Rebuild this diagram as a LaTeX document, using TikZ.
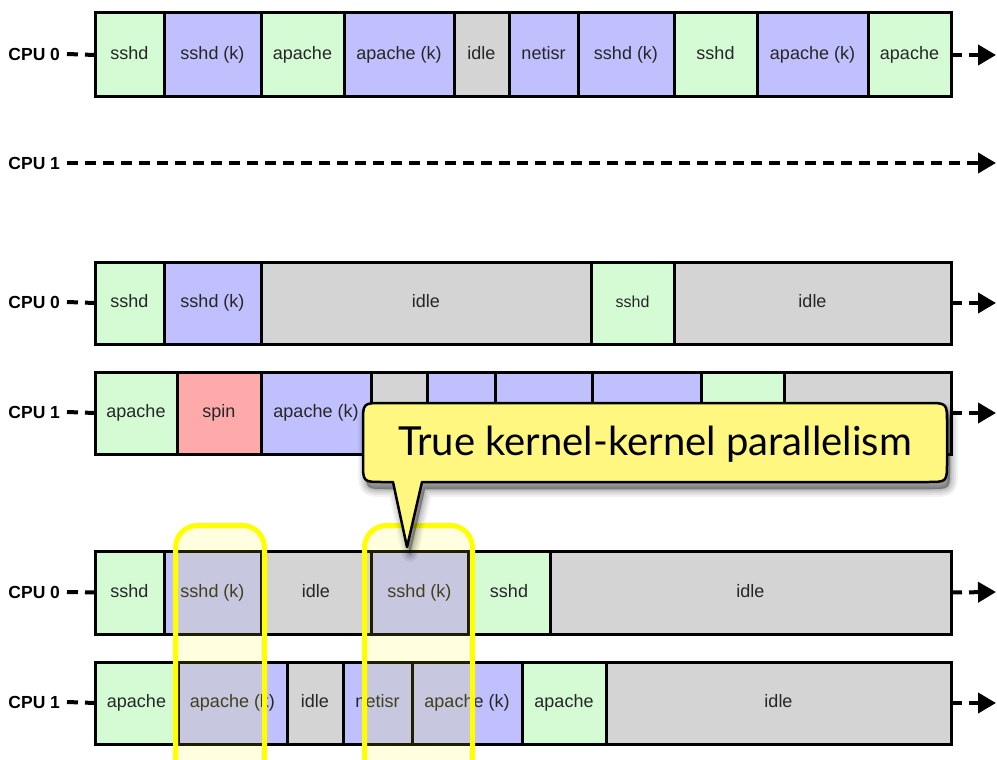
\documentclass[tikz,border=0pt]{standalone}
\usepackage{fontspec}
\setmainfont{Liberation Sans}
\newfontfamily\callfont{Lato}
\usetikzlibrary{arrows.meta}
\definecolor{cg}{RGB}{213,251,213}
\definecolor{cb}{RGB}{192,192,255}
\definecolor{cgr}{RGB}{212,212,212}
\definecolor{cr}{RGB}{255,170,170}
\definecolor{cy}{RGB}{255,247,128}
\definecolor{hly}{RGB}{255,255,0}
\tikzset{
  cellbox/.style={draw, line width=3pt, inner sep=0pt, outer sep=0pt, text=black!85,
    text height=13pt, text depth=4pt, font=\fontsize{18}{20}\selectfont},
  cpulbl/.style={font=\bfseries\fontsize{17.5}{20}\selectfont, anchor=east, inner sep=0pt, outer sep=0pt,
    text height=12.5pt, text depth=0pt},
  dashln/.style={line width=4pt, dash pattern=on 11pt off 7pt},
  arr/.style={dashln, -{Triangle[length=18pt,width=20pt]}},
  hlbox/.style={draw=hly, line width=5pt, rounded corners=22pt, fill=hly, fill opacity=0.12},
}
\newcommand{\mycell}[7]{%
  \node[cellbox, fill=#6, minimum width={#3-#2}, minimum height={#5-#4}, anchor=north west] (#1) at (#2,#4) {#7};}
\newcommand{\callpath}{(407,547) -- (422,482) -- (927,482) .. controls (947,482) .. (947,462) -- (947,423) .. controls (947,403) .. (927,403) -- (383,403) .. controls (363,403) .. (363,423) -- (363,462) .. controls (363,482) .. (383,482) -- (393,482) -- cycle}
\begin{document}
\begin{tikzpicture}[x=1pt,y=-1pt]
\useasboundingbox (0,0) rectangle (997,760);
\fill[white] (0,0) rectangle (997,760);

% Row 1
\node[cpulbl] (l1) at (60,54) {CPU 0};
\mycell{a1}{95}{164}{13}{97}{cg}{sshd}
\mycell{a2}{164}{261}{13}{97}{cb}{sshd (k)}
\mycell{a3}{261}{344}{13}{97}{cg}{apache}
\mycell{a4}{344}{454}{13}{97}{cb}{apache (k)}
\mycell{a5}{454}{509}{13}{97}{cgr}{idle}
\mycell{a6}{509}{578}{13}{97}{cb}{netisr}
\mycell{a7}{578}{674}{13}{97}{cb}{sshd (k)}
\mycell{a8}{674}{757}{13}{97}{cg}{sshd}
\mycell{a9}{757}{868}{13}{97}{cb}{apache (k)}
\mycell{a10}{868}{951}{13}{97}{cg}{apache}
\coordinate (e1) at (996,55);
\draw[dashln] ([xshift=7pt]l1.east) -- (a1.west);
\draw[arr] (a10.east) -- (e1);

% Row 2
\node[cpulbl] (l2) at (60,163) {CPU 1};
\coordinate (e2) at (996,163);
\draw[arr] ([xshift=7pt]l2.east) -- (e2);

% Row 3
\node[cpulbl] (l3) at (60,302) {CPU 0};
\mycell{b1}{95}{164}{262}{344}{cg}{sshd}
\mycell{b2}{164}{261}{262}{344}{cb}{sshd (k)}
\mycell{b3}{261}{591}{262}{344}{cgr}{idle}
\mycell{b4}{591}{674}{262}{344}{cg}{\fontsize{16}{18}\selectfont sshd}
\mycell{b5}{674}{951}{262}{344}{cgr}{idle}
\coordinate (e3) at (996,303);
\draw[dashln] ([xshift=7pt]l3.east) -- (b1.west);
\draw[arr] (b5.east) -- (e3);

% Row 4
\node[cpulbl] (l4) at (60,412) {CPU 1};
\mycell{c1}{95}{177}{372}{454}{cg}{apache}
\mycell{c2}{177}{261}{372}{454}{cr}{spin}
\mycell{c3}{261}{371}{372}{454}{cb}{apache (k)}
\mycell{c4}{371}{427}{372}{454}{cgr}{}
\mycell{c5}{427}{495}{372}{454}{cb}{}
\mycell{c6}{495}{592}{372}{454}{cb}{}
\mycell{c7}{592}{701}{372}{454}{cb}{}
\mycell{c8}{701}{784}{372}{454}{cg}{}
\mycell{c9}{784}{951}{372}{454}{cgr}{}
\coordinate (e4) at (996,413);
\draw[dashln] ([xshift=7pt]l4.east) -- (c1.west);
\draw[arr] (c9.east) -- (e4);

% Row 5
\node[cpulbl] (l5) at (60,592) {CPU 0};
\mycell{d1}{95}{164}{551}{634}{cg}{sshd}
\mycell{d2}{164}{261}{551}{634}{cb}{sshd (k)}
\mycell{d3}{261}{371}{551}{634}{cgr}{idle}
\mycell{d4}{371}{468}{551}{634}{cb}{sshd (k)}
\mycell{d5}{468}{550}{551}{634}{cg}{sshd}
\mycell{d6}{550}{951}{551}{634}{cgr}{idle}
\coordinate (e5) at (996,592);
\draw[dashln] ([xshift=7pt]l5.east) -- (d1.west);
\draw[arr] (d6.east) -- (e5);
\draw[line width=2.5pt] (177,551) -- (177,634);

% Row 6
\node[cpulbl] (l6) at (60,702) {CPU 1};
\mycell{f1}{95}{178}{662}{744}{cg}{apache}
\mycell{f2}{178}{287}{662}{744}{cb}{apache (k)}
\mycell{f3}{287}{343}{662}{744}{cgr}{idle}
\mycell{f4}{343}{412}{662}{744}{cb}{netisr}
\mycell{f5}{412}{522}{662}{744}{cb}{apache (k)}
\mycell{f6}{522}{606}{662}{744}{cg}{apache}
\mycell{f7}{606}{951}{662}{744}{cgr}{idle}
\coordinate (e6) at (996,703);
\draw[dashln] ([xshift=7pt]l6.east) -- (f1.west);
\draw[arr] (f7.east) -- (e6);

% Highlights
\begin{scope}
\clip (0,0) rectangle (997,760);
\draw[hlbox] (175.5,525.5) rectangle (264.5,785);
\draw[hlbox] (364.5,525.5) rectangle (472.5,785);
\end{scope}

% Callout shadow
\foreach \w/\o in {16/0.05,12/0.06,8/0.07,4/0.09,1/0.1}{
  \path[fill=black, fill opacity=\o, draw=black, draw opacity=\o, line width=\w pt, line join=round, shift={(3,7)}] \callpath;
}
% Callout
\draw[fill=cy, line width=2.5pt, line join=round] \callpath;
\node[font=\callfont\fontsize{40}{46}\selectfont, inner sep=0pt] (callt) at (655,444) {True kernel-kernel parallelism};
\end{tikzpicture}
\end{document}
